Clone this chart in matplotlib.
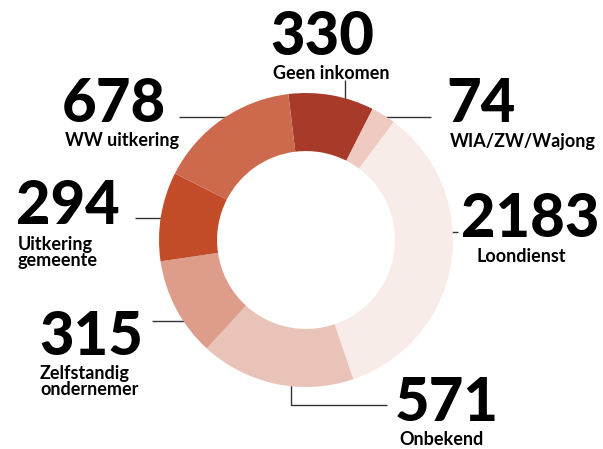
# LIBRARIES

import matplotlib
matplotlib.use("Agg")
import matplotlib.pyplot as plt


# DATA

LABELS = ["Geen inkomen", "WIA/ZW/Wajong", "Loondienst", "Onbekend",
          "Zelfstandig\nondernemer", "Uitkering\ngemeente", "WW uitkering"]
COUNTS = [330, 74, 2183, 571, 315, 294, 678]
# ring share per segment (percent), as drawn in the picture
SHARES = [9.4, 2.7, 34.6, 17.0, 10.9, 9.8, 15.6]

COLORS = ["#A83A2A", "#EECAC0", "#F8ECE9", "#EAC3B8",
          "#DE9D8B", "#C24B28", "#CD6A4E"]


# LAYOUT (pixel coords, origin top-left)

W, H = 603, 449
CX, CY, R = 306, 240, 147
FONT = ["Lato", "DejaVu Sans"]

# number anchor (x, baseline y, ha)
NUM_POS = [
    (322, 55, "center"),
    (446, 122, "left"),
    (461, 237, "left"),
    (395, 421, "left"),
    (39, 355, "left"),
    (16, 224, "left"),
    (62, 122, "left"),
]
# label anchor (x, top y, ha)
LAB_POS = [
    (331, 65, "center"),
    (450, 133, "left"),
    (477, 248, "left"),
    (399, 431, "left"),
    (40, 365, "left"),
    (18, 236, "left"),
    (65, 132, "left"),
]
LEADERS = [
    [(333, 116), (345, 116), (345, 80)],
    [(377, 117), (431, 117)],
    [(428, 232), (458, 232)],
    [(291, 377), (291, 405), (387, 405)],
    [(152, 321), (187, 321)],
    [(135, 218), (178, 218)],
    [(179, 117), (247, 117)],
]


# PLOT

fig = plt.figure(figsize=(W / 100, H / 100), dpi=100)
ax = fig.add_axes([0, 0, 1, 1])
ax.set_xlim(0, W)
ax.set_ylim(H, 0)
ax.axis("off")

pax = fig.add_axes([(CX - R) / W, 1 - (CY + R) / H, 2 * R / W, 2 * R / H])
pax.pie(SHARES, colors=COLORS, startangle=96.9, counterclock=False,
        wedgeprops=dict(width=0.395, linewidth=0))
pax.set_aspect("equal")
pax.set_xlim(-1, 1)
pax.set_ylim(-1, 1)
pax.axis("off")

for (nx_, ny_, ha), (lx, ly, lha), n, lab in zip(NUM_POS, LAB_POS, COUNTS, LABELS):
    ax.text(nx_, ny_, str(n), ha=ha, va="baseline", fontsize=43,
            fontweight="black", family=FONT, color="black")
    ax.text(lx, ly, lab, ha=lha, va="top", fontsize=13, fontweight="bold",
            family=FONT, color="black", linespacing=0.95)

for pts in LEADERS:
    xs, ys = zip(*pts)
    ax.plot(xs, ys, color="#333333", lw=1.0, solid_capstyle="butt")

fig.savefig("out.png", dpi=100, facecolor="white")
